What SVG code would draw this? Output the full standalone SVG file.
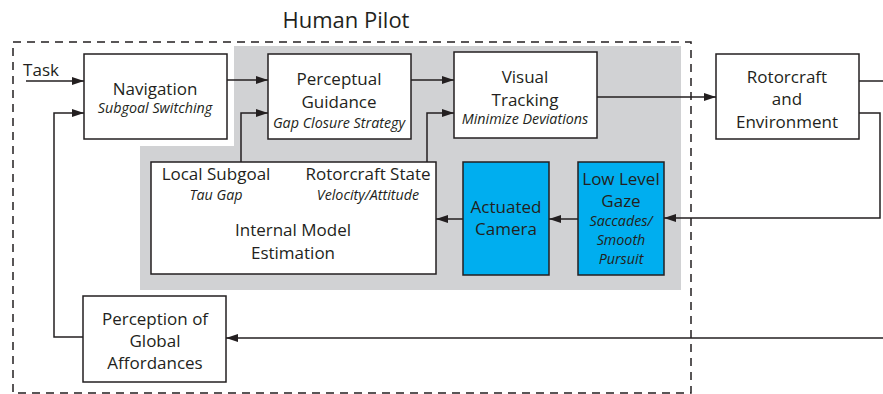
<svg xmlns="http://www.w3.org/2000/svg" width="883" height="394" viewBox="0 0 883 394">
<defs>
<style>
.box{fill:#fff;stroke:#231f20;stroke-width:1.5}
.blue{fill:#00aeef;stroke:#231f20;stroke-width:1.5}
.t{font-family:"Open Sans","Liberation Sans",sans-serif;font-size:17px;fill:#231f20;text-anchor:middle}
.i{font-family:"Open Sans","Liberation Sans",sans-serif;font-size:14.3px;font-style:italic;fill:#231f20;text-anchor:middle}
.ln{fill:none;stroke:#231f20;stroke-width:1.5}
</style>
<marker id="ah" viewBox="0 0 12 8" refX="12" refY="4" markerWidth="12" markerHeight="8" markerUnits="userSpaceOnUse" orient="auto">
<path d="M0,0 L12,4 L0,8 Z" fill="#231f20"/>
</marker>
</defs>
<rect width="883" height="394" fill="#fff"/>
<polygon points="234,46 681,46 681,290 140,290 140,146 234,146" fill="#d1d2d4"/>
<rect x="13" y="42" width="678" height="351" fill="none" stroke="#231f20" stroke-width="1.5" stroke-dasharray="8,6"/>
<text x="346" y="28" font-family="'Open Sans','Liberation Sans',sans-serif" font-size="22" fill="#231f20" text-anchor="middle">Human Pilot</text>
<text x="41" y="76" class="t" font-size="15">Task</text>

<g id="connectors">
<path class="ln" d="M26,81 H84" marker-end="url(#ah)"/>
<path class="ln" d="M227,80 H268" marker-end="url(#ah)"/>
<path class="ln" d="M411,80 H454" marker-end="url(#ah)"/>
<path class="ln" d="M597,97 H716" marker-end="url(#ah)"/>
<path class="ln" d="M859,81 H883"/>
<path class="ln" d="M859,113 H880 V218 H664" marker-end="url(#ah)"/>
<path class="ln" d="M578,219 H549" marker-end="url(#ah)"/>
<path class="ln" d="M463,219 H436" marker-end="url(#ah)"/>
<path class="ln" d="M241,162 V113 H268" marker-end="url(#ah)"/>
<path class="ln" d="M427,162 V113 H454" marker-end="url(#ah)"/>
<path class="ln" d="M83,337 H54 V113 H84" marker-end="url(#ah)"/>
<path class="ln" d="M883,338 H226" marker-end="url(#ah)"/>
</g>

<g id="navigation">
<rect class="box" x="84" y="54" width="143" height="85"/>
<text class="t" x="155" y="95">Navigation</text>
<text class="i" x="155" y="113">Subgoal Switching</text>
</g>
<g id="perceptual-guidance">
<rect class="box" x="268" y="54" width="143" height="85"/>
<text class="t" x="339" y="85">Perceptual</text>
<text class="t" x="339" y="108">Guidance</text>
<text class="i" x="339" y="128">Gap Closure Strategy</text>
</g>
<g id="visual-tracking">
<rect class="box" x="454" y="52" width="143" height="86"/>
<text class="t" x="525" y="83">Visual</text>
<text class="t" x="525" y="106">Tracking</text>
<text class="i" x="525" y="124">Minimize Deviations</text>
</g>
<g id="rotorcraft-environment">
<rect class="box" x="716" y="54" width="143" height="85"/>
<text class="t" x="787" y="83">Rotorcraft</text>
<text class="t" x="787" y="105">and</text>
<text class="t" x="787" y="128">Environment</text>
</g>
<g id="internal-model">
<rect class="box" x="151" y="162" width="285" height="112"/>
<text class="t" x="216" y="180">Local Subgoal</text>
<text class="i" x="216" y="200">Tau Gap</text>
<text class="t" x="368" y="180">Rotorcraft State</text>
<text class="i" x="368" y="200">Velocity/Attitude</text>
<text class="t" x="293" y="236">Internal Model</text>
<text class="t" x="293" y="259">Estimation</text>
</g>
<g id="actuated-camera">
<rect class="blue" x="463" y="162" width="86" height="113"/>
<text class="t" x="506" y="213">Actuated</text>
<text class="t" x="506" y="235">Camera</text>
</g>
<g id="low-level-gaze">
<rect class="blue" x="578" y="162" width="86" height="113"/>
<text class="t" x="621" y="185">Low Level</text>
<text class="t" x="621" y="207">Gaze</text>
<text class="i" x="621" y="226">Saccades/</text>
<text class="i" x="621" y="245">Smooth</text>
<text class="i" x="621" y="264">Pursuit</text>
</g>
<g id="perception-global">
<rect class="box" x="83" y="296" width="143" height="86"/>
<text class="t" x="155" y="325">Perception of</text>
<text class="t" x="155" y="347">Global</text>
<text class="t" x="155" y="369">Affordances</text>
</g>
</svg>
